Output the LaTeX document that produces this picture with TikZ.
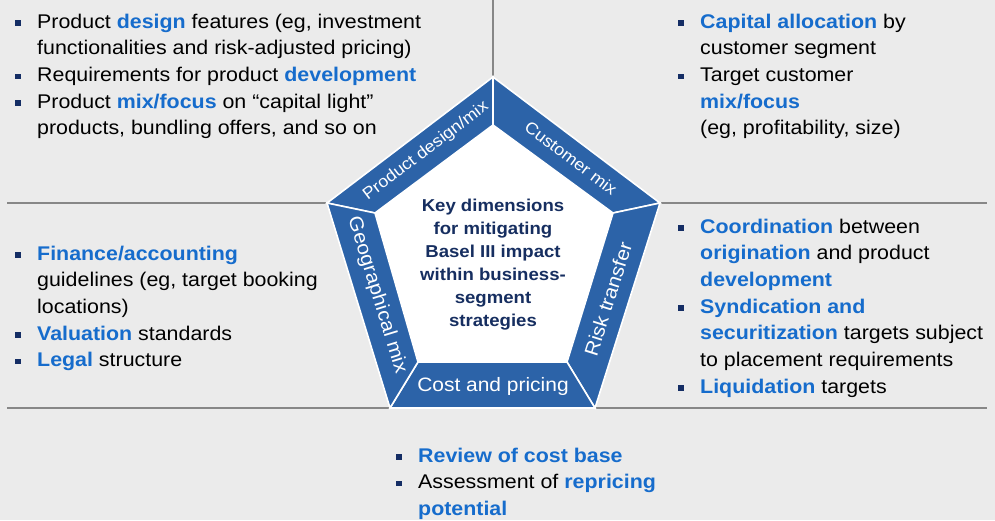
\documentclass[tikz,border=0pt]{standalone}
\usepackage{fontspec}
\setmainfont[FakeStretch=1.08]{Liberation Sans}
\definecolor{bgc}{RGB}{235,235,235}
\definecolor{bandblue}{RGB}{44,99,168}
\definecolor{emph}{RGB}{22,108,204}
\definecolor{navy}{RGB}{22,46,96}
\definecolor{bul}{RGB}{20,45,100}
\definecolor{sepgray}{RGB}{135,135,135}
\newcommand{\kw}[1]{\textbf{\textcolor{emph}{#1}}}
\newcommand{\blt}{\textcolor{bul}{\rule[2.4pt]{6pt}{5.5pt}}}
\tikzset{
  band/.style={fill=bandblue, draw=white, line width=1.6pt, line join=miter},
  blab/.style={text=white, font=\fontsize{19.4}{23}\selectfont, inner sep=0pt},
  blabsmall/.style={blab, font=\fontsize{16.6}{20}\selectfont},
  ctext/.style={text=navy, align=center, font=\bfseries\fontsize{17.2}{23}\selectfont, inner sep=0pt},
  block/.style={anchor=base west, inner sep=0pt, font=\fontsize{19.8}{26.7}\selectfont},
  sepline/.style={draw=sepgray, line width=1.5pt}
}
\newenvironment{blist}{\begin{tabular}[t]{@{}l@{\hspace{16pt}}l@{}}}{\end{tabular}}
\begin{document}
\begin{tikzpicture}[x=1pt,y=-1pt]
\fill[bgc] (0,0) rectangle (995,520);
\useasboundingbox (0,0) rectangle (995,520);
% pentagon vertices
\coordinate (O1) at (493,77);
\coordinate (O2) at (660,203);
\coordinate (O3) at (595,408);
\coordinate (O4) at (390,408);
\coordinate (O5) at (327,203);
\coordinate (I1) at (493,125);
\coordinate (I2) at (613,213);
\coordinate (I3) at (567,362);
\coordinate (I4) at (418,362);
\coordinate (I5) at (375,213);
% separator ends
\coordinate (TL) at (7,203);
\coordinate (TR) at (987,203);
\coordinate (BL) at (7,408);
\coordinate (BR) at (987,408);
\coordinate (VT) at (493,0);
\draw[sepline] (TL) -- (O5);
\draw[sepline] (O2) -- (TR);
\draw[sepline] (BL) -- (O4);
\draw[sepline] (O3) -- (BR);
\draw[sepline] (VT) -- (O1);
% bands
\filldraw[band] (O5) -- (O1) -- (I1) -- (I5) -- cycle;
\filldraw[band] (O1) -- (O2) -- (I2) -- (I1) -- cycle;
\filldraw[band] (O2) -- (O3) -- (I3) -- (I2) -- cycle;
\filldraw[band] (O3) -- (O4) -- (I4) -- (I3) -- cycle;
\filldraw[band] (O4) -- (O5) -- (I5) -- (I4) -- cycle;
\fill[white] (I1) -- (I2) -- (I3) -- (I4) -- (I5) -- cycle;
% band labels
\node[blabsmall, rotate=37.2] (lprod) at (426,151) {Product design/mix};
\node[blabsmall, rotate=-37] (lcust) at (571,158) {Customer mix};
\node[blab, rotate=72.4] (lrisk) at (608,299) {Risk transfer};
\node[blab, rotate=-72.9] (lgeo) at (377,295) {Geographical mix};
\node[blab] (lcost) at (493,386) {Cost and pricing};
% centre
\node[ctext] (key) at (493,265) {Key dimensions\\for mitigating\\Basel III impact\\within business-\\segment\\strategies};
% text blocks
\node[block] (prodtxt) at (15,28) {\begin{blist}
\blt & Product \kw{design} features (eg, investment\\
 & functionalities and risk-adjusted pricing)\\
\blt & Requirements for product \kw{development}\\
\blt & Product \kw{mix/focus} on “capital light”\\
 & products, bundling offers, and so on
\end{blist}};
\node[block] (custtxt) at (678,28) {\begin{blist}
\blt & \kw{Capital allocation} by\\
 & customer segment\\
\blt & Target customer\\
 & \kw{mix/focus}\\
 & (eg, profitability, size)
\end{blist}};
\node[block] (geotxt) at (15,260) {\begin{blist}
\blt & \kw{Finance/accounting}\\
 & guidelines (eg, target booking\\
 & locations)\\
\blt & \kw{Valuation} standards\\
\blt & \kw{Legal} structure
\end{blist}};
\node[block] (risktxt) at (678,233) {\begin{blist}
\blt & \kw{Coordination} between\\
 & \kw{origination} and product\\
 & \kw{development}\\
\blt & \kw{Syndication and}\\
 & \kw{securitization} targets subject\\
 & to placement requirements\\
\blt & \kw{Liquidation} targets
\end{blist}};
\node[block] (costtxt) at (396,462) {\begin{blist}
\blt & \kw{Review of cost base}\\
\blt & Assessment of \kw{repricing}\\
 & \kw{potential}
\end{blist}};
\end{tikzpicture}
\end{document}
